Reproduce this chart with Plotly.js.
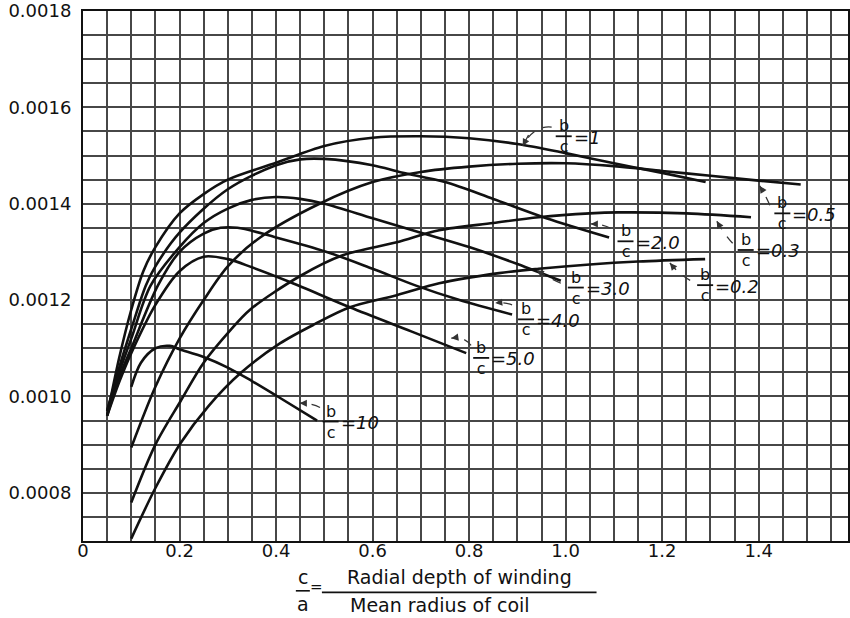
<!DOCTYPE html>
<html><head><meta charset="utf-8">
<script src="https://cdn.plot.ly/plotly-3.0.1.min.js"></script>
<style>html,body{margin:0;padding:0;background:#fff}#c{width:850px;height:618px}</style>
</head><body><div id="c"></div>
<script>
// ---- data ----
const ratioNames = ['1', '0.5', '0.3', '2.0', '0.2', '3.0', '4.0', '5.0', '10'];

const bc1_x = [0.05,0.075,0.1,0.125,0.15,0.2,0.25,0.3,0.4,0.5,0.6,0.7,0.8,0.9,1.0,1.1,1.2,1.29];
const bc1_y = [0.00096,0.00108,0.00118,0.00126,0.00131,0.00138,0.00142,0.00145,0.001485,0.00152,0.001537,0.00154,0.001536,0.001524,0.001505,0.001484,0.001464,0.001445];

const bc05_x = [0.1,0.15,0.2,0.25,0.3,0.367,0.49,0.6,0.7,0.8,0.9,1.0,1.1,1.2,1.3,1.4,1.487];
const bc05_y = [0.000894,0.00102,0.00112,0.0012,0.00127,0.00133,0.0014,0.001445,0.001466,0.001477,0.001483,0.001484,0.001478,0.001468,0.001458,0.001448,0.00144];

const bc03_x = [0.1,0.15,0.202,0.25,0.305,0.346,0.45,0.538,0.65,0.738,0.85,0.944,1.05,1.109,1.25,1.384];
const bc03_y = [0.00078,0.0009,0.00099,0.00107,0.001137,0.00118,0.00125,0.001293,0.00132,0.001345,0.00136,0.001372,0.00138,0.001382,0.00138,0.001372];

const bc02_x = [0.1,0.15,0.202,0.26,0.326,0.408,0.48,0.553,0.65,0.738,0.862,0.944,1.05,1.15,1.289];
const bc02_y = [0.000705,0.00081,0.000903,0.00098,0.001048,0.00111,0.00115,0.001185,0.00121,0.001235,0.001256,0.001265,0.001274,0.00128,0.001285];

const bc2_x = [0.05,0.075,0.1,0.13,0.15,0.2,0.3,0.4,0.45,0.5,0.6,0.66,0.75,0.85,0.96,1.09];
const bc2_y = [0.00097,0.00106,0.00114,0.00123,0.00127,0.00134,0.00143,0.00148,0.001492,0.001493,0.00148,0.001465,0.001445,0.00141,0.00137,0.00133];

const bc3_x = [0.05,0.075,0.1,0.14,0.2,0.25,0.3,0.35,0.4,0.45,0.5,0.6,0.7,0.8,0.9,0.99];
const bc3_y = [0.00097,0.00105,0.00112,0.00123,0.00131,0.00136,0.00139,0.001408,0.001414,0.00141,0.0014,0.00137,0.00134,0.00131,0.001275,0.00124];

const bc4_x = [0.05,0.075,0.1,0.155,0.2,0.25,0.285,0.32,0.4,0.505,0.6,0.69,0.78,0.889];
const bc4_y = [0.00096,0.00104,0.0011,0.00123,0.0013,0.001338,0.00135,0.00135,0.00133,0.0013,0.001265,0.00123,0.0012,0.00117];

const bc5_x = [0.05,0.075,0.1,0.15,0.2,0.25,0.3,0.35,0.43,0.553,0.68,0.794];
const bc5_y = [0.00096,0.00103,0.00109,0.00119,0.00126,0.00129,0.001285,0.001268,0.001237,0.001185,0.001135,0.00109];

const bc10_x = [0.1,0.12,0.15,0.18,0.2,0.25,0.3,0.35,0.4,0.485];
const bc10_y = [0.00102,0.00107,0.0011,0.001105,0.001098,0.001082,0.00106,0.001032,0.001002,0.00095];

const xTickVals = [0, 0.2, 0.4, 0.6, 0.8, 1.0, 1.2, 1.4];
const xTickText = ['0', '0.2', '0.4', '0.6', '0.8', '1.0', '1.2', '1.4'];
const yTickVals = [0.0008, 0.0010, 0.0012, 0.0014, 0.0016, 0.0018];
const yTickText = ['0.0008', '0.0010', '0.0012', '0.0014', '0.0016', '0.0018'];

const seriesX = [bc1_x, bc05_x, bc03_x, bc2_x, bc02_x, bc3_x, bc4_x, bc5_x, bc10_x];
const seriesY = [bc1_y, bc05_y, bc03_y, bc2_y, bc02_y, bc3_y, bc4_y, bc5_y, bc10_y];

// ---- label placement (layout, in axis units) ----
// [labelX, labelY, pathStartX, pathStartY, ctrlX, ctrlY, tipX, tipY]
const labelPlace = [
  [0.996, 0.001540, 0.971, 0.001559, 0.934, 0.001563, 0.911, 0.00152],
  [1.449, 0.001380, 1.423, 0.001397, 1.414, 0.001418, 1.402, 0.001437],
  [1.373, 0.001304, 1.346, 0.001318, 1.330, 0.001335, 1.313, 0.001364],
  [1.124, 0.001322, 1.093, 0.001349, 1.078, 0.001358, 1.052, 0.001358],
  [1.289, 0.001231, 1.258, 0.001241, 1.237, 0.001252, 1.216, 0.001277],
  [1.021, 0.001226, 0.990, 0.001235, 0.965, 0.001246, 0.940, 0.001262],
  [0.918, 0.001160, 0.889, 0.001190, 0.874, 0.001196, 0.854, 0.001194],
  [0.825, 0.001080, 0.804, 0.001106, 0.790, 0.001125, 0.763, 0.001121],
  [0.513, 0.000948, 0.491, 0.000977, 0.474, 0.000986, 0.449, 0.000986]
];

const FONT = 'DejaVu Sans, Lato, sans-serif';
const INK = '#111';
const GRID = '#474747';

const traces = seriesX.map((xs, i) => ({
  x: xs, y: seriesY[i], type: 'scatter', mode: 'lines',
  line: {color: INK, width: 2.6, shape: 'spline', smoothing: 0.9},
  hoverinfo: 'skip', showlegend: false, name: 'b/c=' + ratioNames[i]
}));

const annotations = [];
const shapes = [];
labelPlace.forEach((p, i) => {
  const [lx, ly, sx, sy, cx, cy, tx, ty] = p;
  annotations.push({x: lx, y: ly, xref: 'x', yref: 'y', text: 'b<br>c', showarrow: false,
    borderpad: 0, font: {family: FONT, size: 16, color: INK}});
  annotations.push({x: lx, y: ly, xref: 'x', yref: 'y', text: '<i>=' + ratioNames[i] + '</i>', showarrow: false,
    borderpad: 0, xanchor: 'left', xshift: 9, yshift: -1, font: {family: FONT, size: 18, color: INK}});
  shapes.push({type: 'line', xref: 'x', yref: 'y', xsizemode: 'pixel', ysizemode: 'pixel',
    xanchor: lx, yanchor: ly, x0: -8, x1: 8, y0: 0, y1: 0, line: {color: INK, width: 1.8}});
  shapes.push({type: 'path', xref: 'x', yref: 'y',
    path: `M ${sx},${sy} Q ${cx},${cy} ${tx},${ty}`,
    line: {color: '#333', width: 1.3, dash: 'dash'}});
  annotations.push({x: tx, y: ty, ax: cx + (tx - cx) * 0.4, ay: cy + (ty - cy) * 0.4,
    axref: 'x', ayref: 'y', xref: 'x', yref: 'y', text: '', showarrow: true,
    arrowhead: 2, arrowsize: 1.1, arrowwidth: 1.3, arrowcolor: '#333', standoff: 0});
});

// x-axis title: c/a = Radial depth of winding / Mean radius of coil
const tf = {family: FONT, size: 19, color: INK};
annotations.push({xref: 'x', yref: 'paper', x: 0.455, y: -0.068, yanchor: 'middle', text: 'c', showarrow: false, font: tf});
annotations.push({xref: 'x', yref: 'paper', x: 0.455, y: -0.118, yanchor: 'middle', text: 'a', showarrow: false, font: tf});
annotations.push({xref: 'x', yref: 'paper', x: 0.484, y: -0.086, yanchor: 'middle', text: '=', showarrow: false, font: {family: FONT, size: 15, color: INK}});
annotations.push({xref: 'x', yref: 'paper', x: 0.780, y: -0.068, yanchor: 'middle', text: 'Radial depth of winding', showarrow: false, font: tf});
annotations.push({xref: 'x', yref: 'paper', x: 0.740, y: -0.121, yanchor: 'middle', text: 'Mean radius of coil', showarrow: false, font: tf});
shapes.push({type: 'line', xref: 'x', yref: 'paper', x0: 0.441, x1: 0.470, y0: -0.094, y1: -0.094, line: {color: INK, width: 1.6}});
shapes.push({type: 'line', xref: 'x', yref: 'paper', x0: 0.495, x1: 1.064, y0: -0.097, y1: -0.097, line: {color: INK, width: 1.6}});

const layout = {
  width: 850, height: 618,
  margin: {l: 83, r: 2, t: 11, b: 77},
  paper_bgcolor: '#fff', plot_bgcolor: '#fff',
  showlegend: false,
  font: {family: FONT, color: INK},
  xaxis: {
    range: [0, 1.585], tickmode: 'array', tickvals: xTickVals, ticktext: xTickText,
    showgrid: true, gridcolor: GRID, gridwidth: 2, zeroline: false,
    showline: true, linecolor: INK, linewidth: 2, mirror: true,
    ticks: '', ticklabelstandoff: -8, tickfont: {family: FONT, size: 18, color: INK},
    minor: {tickmode: 'linear', tick0: 0, dtick: 0.05, showgrid: true, gridcolor: GRID, gridwidth: 2, ticks: ''}
  },
  yaxis: {
    range: [0.0007, 0.0018], tickmode: 'array', tickvals: yTickVals, ticktext: yTickText,
    showgrid: true, gridcolor: GRID, gridwidth: 2, zeroline: false,
    showline: true, linecolor: INK, linewidth: 2, mirror: true,
    ticks: '', ticklabelstandoff: 6, tickfont: {family: FONT, size: 18, color: INK},
    minor: {tickmode: 'linear', tick0: 0.0007, dtick: 0.00005, showgrid: true, gridcolor: GRID, gridwidth: 2, ticks: ''}
  },
  annotations: annotations,
  shapes: shapes
};

Plotly.newPlot('c', traces, layout, {displayModeBar: false, staticPlot: true});
</script>
</body></html>
